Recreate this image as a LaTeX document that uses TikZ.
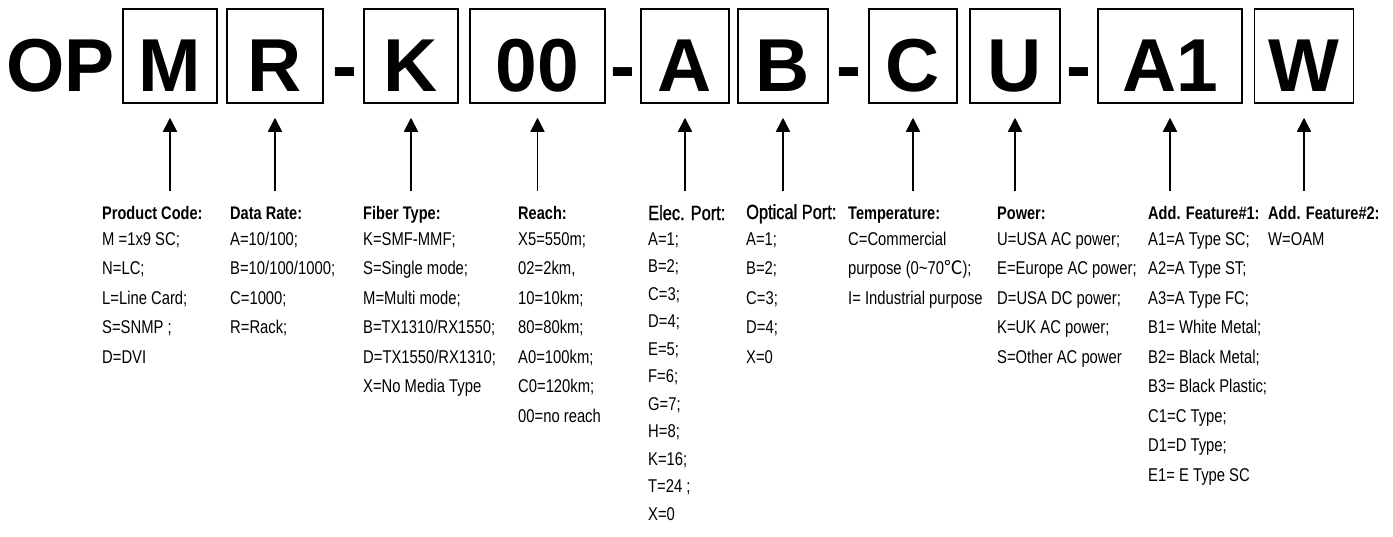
\documentclass[tikz,border=0pt]{standalone}
\usepackage{fontspec}
\setmainfont{Liberation Sans}
\newfontfamily\narrowfont{Liberation Sans}[FakeStretch=0.8]
\newfontfamily\portfont{Liberation Sans}[FakeStretch=0.8,FakeBold=1.2]
\newfontfamily\cjkfont{Noto Sans CJK SC}
\usepackage{tikz}
\usetikzlibrary{arrows.meta,positioning}

\tikzset{
  codebox/.style={draw,line width=1.5pt,minimum height=94pt,inner sep=0pt,
    text height=70pt,text depth=0pt,font=\fontsize{75}{75}\selectfont\bfseries},
  codechar/.style={anchor=base,inner sep=0pt,font=\fontsize{75}{75}\selectfont\bfseries},
  pointer/.style={line width=1.7pt,shorten >=14pt,-{Triangle[width=14pt,length=14pt]}},
  headtext/.style={anchor=base west,inner sep=0pt,font=\narrowfont\fontsize{18.2}{20}\selectfont\bfseries},
  porthead/.style={anchor=base west,inner sep=0pt,font=\portfont\fontsize{20.5}{24}\selectfont},
  itemtext/.style={anchor=base west,inner sep=0pt,font=\narrowfont\fontsize{18.5}{20}\selectfont}
}

\begin{document}
\begin{tikzpicture}[x=1pt,y=-1pt]
\useasboundingbox (0,0) rectangle (1393,536);

% part number
\node[codechar,anchor=base west] (op) at (6,91) {OP};
\node[codebox,minimum width=94pt] (m) at (170,56) {M};
\node[codebox,minimum width=96pt] (r) at (275,56) {R};
\node[codechar] (dash1) at (344.5,91) {-};
\node[codebox,minimum width=94pt] (k) at (411,56) {K};
\node[codebox,minimum width=135pt] (reach) at (537.5,56) {00};
\node[codechar] (dash2) at (622.5,91) {-};
\node[codebox,minimum width=88pt] (elec) at (685,56) {A};
\node[codebox,minimum width=90pt] (opt) at (783,56) {B};
\node[codechar] (dash3) at (848.5,91) {-};
\node[codebox,minimum width=88pt] (temp) at (913,56) {C};
\node[codebox,minimum width=90pt] (pwr) at (1015,56) {U};
\node[codechar] (dash4) at (1078.5,91) {-};
\node[codebox,minimum width=144pt] (featA) at (1170,56) {A1};
\node[codebox,minimum width=99pt] (featB) at (1304,56) {W};

% arrows up to the boxes
\foreach \code/\x in {m/170,r/275,k/411,reach/537.5,elec/685,opt/783,temp/913,pwr/1015,featA/1170,featB/1304}
{
  \coordinate (\code-foot) at (\x,191);
  \draw[pointer] (\code-foot) -- (\code);
}

% legend columns
\node[headtext] (m-head) at (102,219) {Product Code:};
\foreach \txt [count=\i] in {M =1x9 SC;,N=LC;,L=Line Card;,S=SNMP ;,D=DVI}
  \node[itemtext] (m-\i) at (102,{245+29.5*(\i-1)}) {\txt};

\node[headtext] (r-head) at (230,219) {Data Rate:};
\foreach \txt [count=\i] in {A=10/100;,B=10/100/1000;,C=1000;,R=Rack;}
  \node[itemtext] (r-\i) at (230,{245+29.5*(\i-1)}) {\txt};

\node[headtext] (k-head) at (363,219) {Fiber Type:};
\foreach \txt [count=\i] in {K=SMF-MMF;,S=Single mode;,M=Multi mode;,B=TX1310/RX1550;,D=TX1550/RX1310;,X=No Media Type}
  \node[itemtext] (k-\i) at (363,{245+29.5*(\i-1)}) {\txt};

\node[headtext] (reach-head) at (518,219) {Reach:};
\foreach \txt [count=\i] in {X5=550m;,{02=2km,},10=10km;,80=80km;,A0=100km;,C0=120km;,00=no reach}
  \node[itemtext] (reach-\i) at (518,{245+29.5*(\i-1)}) {\txt};

\node[porthead] (elec-head) at (648,220) {Elec. Port:};
\foreach \txt [count=\i] in {A=1;,B=2;,C=3;,D=4;,E=5;,F=6;,G=7;,H=8;,K=16;,T=24 ;,X=0}
  \node[itemtext] (elec-\i) at (648,{245+27.5*(\i-1)}) {\txt};

\node[porthead] (opt-head) at (746,219) {Optical Port:};
\foreach \txt [count=\i] in {A=1;,B=2;,C=3;,D=4;,X=0}
  \node[itemtext] (opt-\i) at (746,{245+29.5*(\i-1)}) {\txt};

\node[headtext] (temp-head) at (848,219) {Temperature:};
\foreach \txt [count=\i] in {C=Commercial,purpose (0\textasciitilde70{\cjkfont ℃});,I= Industrial purpose}
  \node[itemtext] (temp-\i) at (848,{245+29.5*(\i-1)}) {\txt};

\node[headtext] (pwr-head) at (997,219) {Power:};
\foreach \txt [count=\i] in {U=USA AC power;,E=Europe AC power;,D=USA DC power;,K=UK AC power;,S=Other AC power}
  \node[itemtext] (pwr-\i) at (997,{245+29.5*(\i-1)}) {\txt};

\node[headtext] (featA-head) at (1148,219) {Add. Feature\#1:};
\foreach \txt [count=\i] in {A1=A Type SC;,A2=A Type ST;,A3=A Type FC;,B1= White Metal;,B2= Black Metal;,B3= Black Plastic;,C1=C Type;,D1=D Type;,E1= E Type SC}
  \node[itemtext] (featA-\i) at (1148,{245+29.5*(\i-1)}) {\txt};

\node[headtext] (featB-head) at (1268,219) {Add. Feature\#2:};
\node[itemtext] (featB-1) at (1268,245) {W=OAM};
\end{tikzpicture}
\end{document}
